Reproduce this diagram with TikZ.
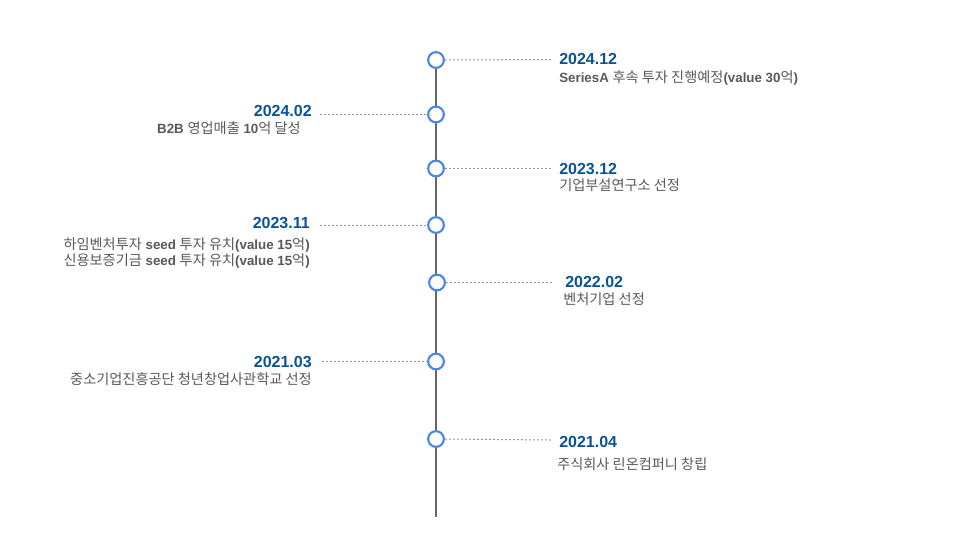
\documentclass[tikz,border=0pt]{standalone}
\usepackage{fontspec}
\setmainfont{Liberation Sans}
\newfontfamily\krf[Scale=1.065]{Noto Sans CJK KR}
\newcommand{\K}[1]{{\krf\mdseries #1}}
\definecolor{dotblue}{HTML}{4A86E8}
\definecolor{datecol}{HTML}{0B5394}
\definecolor{txtcol}{HTML}{595959}
\definecolor{axiscol}{HTML}{666666}
\definecolor{dotcol}{HTML}{999999}
\begin{document}
\begin{tikzpicture}[x=0.75pt,y=-0.75pt,
  dotc/.style={circle,draw=dotblue,line width=1.6pt,fill=white,minimum size=11.8pt,inner sep=0pt},
  datelbl/.style={font=\fontsize{12pt}{14pt}\selectfont\bfseries,text=datecol,inner sep=0pt},
  desclbl/.style={font=\fontsize{10pt}{12.3pt}\selectfont\bfseries,text=txtcol,inner sep=0pt},
  lead/.style={draw=dotcol,line width=0.75pt,dash pattern=on 1.5pt off 1.5pt}]
\useasboundingbox (0,0) rectangle (960,540);
\fill[white] (0,0) rectangle (960,540);
% axis
\coordinate (top) at (436,60);
\coordinate (bot) at (436,517);
\draw[axiscol,line width=0.9pt] (top) -- (bot);
% circles
\node[dotc] (c1) at (436,60) {};
\node[dotc] (c2) at (436,114.5) {};
\node[dotc] (c3) at (436,168.5) {};
\node[dotc] (c4) at (436,225) {};
\node[dotc] (c5) at (437,282.5) {};
\node[dotc] (c6) at (436,361.5) {};
\node[dotc] (c7) at (436,439) {};
% right side
\coordinate (e1) at (551,59.5);
\draw[lead] (c1.east) -- (e1);
\node[datelbl,anchor=base west] (d1) at (559,64) {2024.12};
\node[desclbl,anchor=base west] (t1) at (559,82) {SeriesA \K{후속 투자 진행예정}(value 30\K{억})};

\coordinate (e3) at (551,168.5);
\draw[lead] (c3.east) -- (e3);
\node[datelbl,anchor=base west] (d3) at (559,174) {2023.12};
\node[desclbl,anchor=base west] (t3) at (559,190) {\K{기업부설연구소 선정}};

\coordinate (e5) at (552,282.5);
\draw[lead] (c5.east) -- (e5);
\node[datelbl,anchor=base west] (d5) at (565,287.5) {2022.02};
\node[desclbl,anchor=base west] (t5) at (563,304) {\K{벤처기업 선정}};

\coordinate (e7) at (551,440);
\draw[lead] (c7.east) -- (e7);
\node[datelbl,anchor=base west] (d7) at (559,447) {2021.04};
\node[desclbl,anchor=base west] (t7) at (557,469) {\K{주식회사 린온컴퍼니 창립}};
% left side
\coordinate (w2) at (320,114.5);
\draw[lead] (w2) -- (c2.west);
\node[datelbl,anchor=base east] (d2) at (312,116) {2024.02};
\node[desclbl,anchor=base east] (t2) at (301,133) {B2B \K{영업매출} 10\K{억 달성}};

\coordinate (w4) at (320,225);
\draw[lead] (w4) -- (c4.west);
\node[datelbl,anchor=base east] (d4) at (310,228) {2023.11};
\node[desclbl,anchor=base east,align=right] (t4) at (310,249.5) {\K{하임벤처투자} seed \K{투자 유치}(value 15\K{억})};
\node[desclbl,anchor=base east,align=right] (t4b) at (310,265.5) {\K{신용보증기금} seed \K{투자 유치}(value 15\K{억})};

\coordinate (w6) at (322,361.5);
\draw[lead] (w6) -- (c6.west);
\node[datelbl,anchor=base east] (d6) at (312,367) {2021.03};
\node[desclbl,anchor=base east] (t6) at (312,384) {\K{중소기업진흥공단 청년창업사관학교 선정}};
\end{tikzpicture}
\end{document}
